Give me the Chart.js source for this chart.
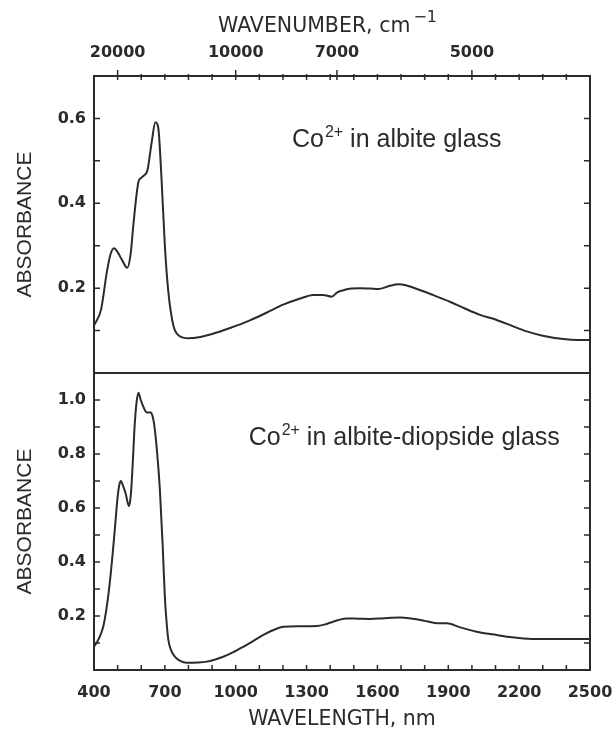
<!DOCTYPE html>
<html>
<head>
<meta charset="utf-8">
<title>Co2+ absorbance spectra</title>
<script src="https://cdn.jsdelivr.net/npm/chart.js@4.4.1/dist/chart.umd.min.js"></script>
<style>
  html, body { margin: 0; padding: 0; background: #fff; }
  canvas { display: block; }
</style>
</head>
<body>
<canvas id="chart" width="616" height="733"></canvas>
<script>
// Co2+ in albite glass (top panel), wavelength nm / absorbance
const albiteNm = [400, 430, 455, 470, 485, 500, 517, 541, 555, 566, 578, 588, 600, 612, 626, 644, 660, 672, 686, 700, 715, 736, 760, 800, 850, 900, 976, 1060, 1130, 1201, 1270, 1329, 1370, 1406, 1430, 1449, 1490, 1526, 1570, 1604, 1650, 1689, 1720, 1753, 1830, 1907, 1970, 2034, 2105, 2170, 2232, 2300, 2387, 2450, 2500];
const albiteAbs = [0.112, 0.150, 0.240, 0.280, 0.294, 0.285, 0.268, 0.248, 0.280, 0.345, 0.410, 0.450, 0.460, 0.466, 0.477, 0.543, 0.591, 0.578, 0.457, 0.300, 0.190, 0.112, 0.088, 0.082, 0.085, 0.092, 0.106, 0.124, 0.142, 0.161, 0.175, 0.184, 0.184, 0.180, 0.190, 0.194, 0.199, 0.200, 0.199, 0.198, 0.205, 0.209, 0.207, 0.201, 0.185, 0.168, 0.152, 0.137, 0.125, 0.111, 0.098, 0.088, 0.080, 0.078, 0.078];

// Co2+ in albite-diopside glass (bottom panel)
const diopsideNm = [400, 420, 439, 455, 468, 480, 489, 500, 507, 514, 522, 534, 548, 555, 560, 566, 571, 580, 588, 598, 609, 623, 641, 648, 654, 665, 679, 691, 700, 708, 715, 728, 743, 765, 792, 840, 877, 910, 947, 990, 1032, 1075, 1117, 1160, 1201, 1270, 1343, 1375, 1399, 1435, 1470, 1520, 1568, 1630, 1696, 1735, 1766, 1800, 1837, 1870, 1893, 1950, 2020, 2060, 2105, 2160, 2218, 2300, 2400, 2500];
const diopsideAbs = [0.086, 0.115, 0.160, 0.240, 0.333, 0.440, 0.530, 0.640, 0.685, 0.700, 0.685, 0.654, 0.607, 0.640, 0.700, 0.800, 0.889, 0.990, 1.027, 1.000, 0.975, 0.954, 0.954, 0.940, 0.914, 0.827, 0.667, 0.457, 0.270, 0.170, 0.111, 0.070, 0.049, 0.034, 0.027, 0.028, 0.031, 0.038, 0.049, 0.066, 0.086, 0.108, 0.130, 0.148, 0.160, 0.162, 0.163, 0.168, 0.175, 0.185, 0.191, 0.190, 0.189, 0.192, 0.194, 0.192, 0.188, 0.182, 0.175, 0.173, 0.173, 0.158, 0.142, 0.135, 0.130, 0.122, 0.117, 0.115, 0.115, 0.115];

const wavelengthTicks = [400, 700, 1000, 1300, 1600, 1900, 2200, 2500];
const wavenumberTicks = [20000, 10000, 7000, 5000];
const topAbsTicks = [0.2, 0.4, 0.6];
const bottomAbsTicks = [0.2, 0.4, 0.6, 0.8, 1.0];

const ink = "#2b2b2b";
const tickFont = { family: "DejaVu Sans", size: 16, weight: "bold" };
const axisTitleFont = { family: "DejaVu Sans", size: 20.5 };
const absTitleFont = { family: "Liberation Sans", size: 21 };

const toPoints = (xs, ys) => xs.map((v, i) => ({ x: v, y: ys[i] }));

// frame, divider and the inward tick marks of the old plotter style
const framePlugin = {
  id: "frame",
  afterDatasetsDraw(chart) {
    const { ctx, chartArea: a, scales } = chart;
    const { x, yTop, yBot } = scales;
    ctx.save();
    ctx.strokeStyle = ink;
    ctx.lineWidth = 2;
    ctx.strokeRect(a.left, a.top, a.right - a.left, a.bottom - a.top);
    ctx.beginPath();
    ctx.moveTo(a.left, yTop.bottom);
    ctx.lineTo(a.right, yTop.bottom);
    ctx.stroke();

    ctx.lineWidth = 1.5;
    ctx.beginPath();
    for (let nm = 500; nm < 2500; nm += 100) {
      const px = x.getPixelForValue(nm);
      ctx.moveTo(px, a.bottom);
      ctx.lineTo(px, a.bottom - 5);
      ctx.moveTo(px, a.top - 2);
      ctx.lineTo(px, a.top + 4);
    }
    wavenumberTicks.forEach(w => {
      const px = x.getPixelForValue(1e7 / w);
      ctx.moveTo(px, a.top - 6);
      ctx.lineTo(px, a.top + 4);
    });
    [[yTop, 0.7], [yBot, 1.1]].forEach(([s, max]) => {
      for (let v = 0.1; v < max - 0.01; v += 0.1) {
        const py = s.getPixelForValue(v);
        ctx.moveTo(a.left, py);
        ctx.lineTo(a.left + 6, py);
        ctx.moveTo(a.right, py);
        ctx.lineTo(a.right - 6, py);
      }
    });
    ctx.stroke();
    ctx.restore();
  }
};

// "Co" + raised "2+" + rest of the caption
function drawCaption(ctx, px, py, rest) {
  ctx.font = "25px 'Liberation Sans'";
  ctx.fillText("Co", px, py);
  let cx = px + ctx.measureText("Co").width + 1;
  ctx.font = "16px 'Liberation Sans'";
  ctx.fillText("2+", cx, py - 10);
  cx += ctx.measureText("2+").width;
  ctx.font = "25px 'Liberation Sans'";
  ctx.fillText(rest, cx, py);
}

const textPlugin = {
  id: "captions",
  afterDraw(chart) {
    const { ctx, chartArea: a, scales } = chart;
    const { x, yTop, yBot } = scales;
    ctx.save();
    ctx.fillStyle = ink;
    ctx.textBaseline = "alphabetic";
    ctx.textAlign = "left";
    drawCaption(ctx, x.getPixelForValue(1238), yTop.getPixelForValue(0.532), " in albite glass");
    drawCaption(ctx, x.getPixelForValue(1055), yBot.getPixelForValue(0.833), " in albite-diopside glass");

    // top axis title with superscript -1
    ctx.textBaseline = "middle";
    ctx.font = "20.5px 'DejaVu Sans'";
    const t = "WAVENUMBER, cm";
    const tx = a.left + 124;
    ctx.fillText(t, tx, 27);
    const tw = ctx.measureText(t).width;
    ctx.font = "16px 'DejaVu Sans'";
    ctx.fillText("\u22121", tx + tw + 3, 18);
    ctx.restore();
  }
};

// keep the edge labels from pushing the plot area in
const noSidePadding = s => { s.paddingLeft = 0; s.paddingRight = 0; };

const yScale = (min, max, ticks) => ({
  type: "linear",
  position: "left",
  stack: "panels",
  stackWeight: 1,
  min: min,
  max: max,
  afterFit: s => { s.width = 94; },
  afterBuildTicks: s => { s.ticks = ticks.map(v => ({ value: v })); },
  grid: { display: false, drawTicks: false },
  border: { display: false },
  ticks: { color: ink, font: tickFont, padding: 8, callback: v => v.toFixed(1) },
  title: { display: true, text: "ABSORBANCE", color: ink, font: absTitleFont, padding: { top: 13, bottom: 0 } }
});

new Chart(document.getElementById("chart"), {
  type: "line",
  data: {
    datasets: [
      {
        label: "Co2+ in albite glass",
        data: toPoints(albiteNm, albiteAbs),
        xAxisID: "x",
        yAxisID: "yTop",
        borderColor: ink,
        borderWidth: 2,
        pointRadius: 0,
        cubicInterpolationMode: "monotone",
        fill: false
      },
      {
        label: "Co2+ in albite-diopside glass",
        data: toPoints(diopsideNm, diopsideAbs),
        xAxisID: "x",
        yAxisID: "yBot",
        borderColor: ink,
        borderWidth: 2,
        pointRadius: 0,
        cubicInterpolationMode: "monotone",
        fill: false
      }
    ]
  },
  options: {
    responsive: false,
    animation: false,
    layout: { padding: { left: 0, right: 26, top: 0, bottom: 0 } },
    plugins: { legend: { display: false }, tooltip: { enabled: false } },
    scales: {
      x: {
        type: "linear",
        position: "bottom",
        min: 400,
        max: 2500,
        afterFit: s => { s.height = 63; noSidePadding(s); },
        afterBuildTicks: s => { s.ticks = wavelengthTicks.map(v => ({ value: v })); },
        grid: { display: false, drawTicks: false },
        border: { display: false },
        ticks: { color: ink, font: tickFont, padding: 13, maxRotation: 0, callback: v => String(v) },
        title: { display: true, text: "WAVELENGTH, nm", color: ink, font: axisTitleFont, padding: { top: 0, bottom: 1 } }
      },
      x2: {
        type: "linear",
        position: "top",
        min: 400,
        max: 2500,
        afterFit: s => { s.height = 76; noSidePadding(s); },
        afterBuildTicks: s => { s.ticks = wavenumberTicks.map(w => ({ value: 1e7 / w })); },
        grid: { display: false, drawTicks: false },
        border: { display: false },
        ticks: { color: ink, font: tickFont, padding: 14, maxRotation: 0, callback: v => String(Math.round(1e7 / v)) }
      },
      yBot: yScale(0, 1.1, bottomAbsTicks),
      yTop: yScale(0, 0.7, topAbsTicks)
    }
  },
  plugins: [framePlugin, textPlugin]
});
</script>
</body>
</html>
